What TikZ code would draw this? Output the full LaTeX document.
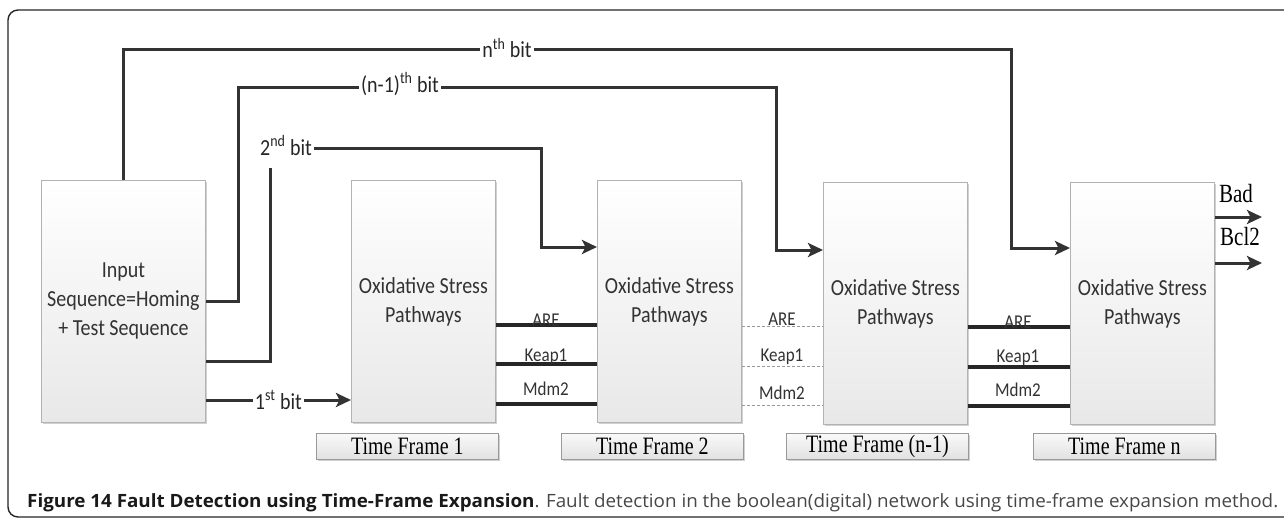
\documentclass[tikz,border=0pt]{standalone}
\usepackage{fontspec}
\usepackage{graphicx}
\setmainfont{Carlito}
\newfontfamily\tnr{Liberation Serif}
\newfontfamily\capfont{Open Sans}
\usetikzlibrary{arrows.meta}
\newcommand\vsa[1]{\scalebox{1}[1.15]{#1}}
\newcommand\vsb[1]{\scalebox{1}[1.25]{#1}}
\begin{document}
\begin{tikzpicture}[x=1pt,y=-1pt,
  shad/.style={preaction={fill=black!18, transform canvas={xshift=1.5pt,yshift=-1.5pt}}},
  box/.style={shad, draw=black!30, line width=0.8pt, top color=white, bottom color=black!9,
    minimum width=144pt, minimum height=242pt, anchor=north west, align=center,
    font=\fontsize{20}{29}\selectfont, text=black!80, inner sep=0pt},
  tfl/.style={shad, draw=black!40, line width=0.8pt, top color=black!2, bottom color=black!12,
    minimum width=182pt, minimum height=26pt, anchor=north west, inner sep=0pt,
    font=\tnr\fontsize{20}{22}\selectfont, text=black},
  conn/.style={draw=black!80, line width=3pt},
  arr/.style={-{Stealth[length=15pt,width=14pt,inset=3.5pt]}},
  bus/.style={draw=black!85, line width=4pt},
  dbus/.style={draw=black!40, line width=1pt, dash pattern=on 3pt off 2pt},
  blab/.style={font=\fontsize{17}{20}\selectfont, text=black!80, anchor=base, inner sep=0pt},
  clab/.style={font=\fontsize{20}{22}\selectfont, text=black!85, fill=white, inner sep=2pt},
  olab/.style={font=\tnr\fontsize{21}{22}\selectfont, text=black, inner sep=0pt}
]
\useasboundingbox (0,0) rectangle (1284,519);
\fill[white] (0,0) rectangle (1284,519);
% outer frame
\draw[black!85, line width=1.4pt, rounded corners=10pt] (8,10) rectangle (1320,517);

% boxes
\node[box, minimum width=164pt] (inp) at (41,180) {\vsa{Input}\\\vsa{Sequence=Homing}\\\vsa{+ Test Sequence}};
\node[box] (tf1) at (351,180) {\vsa{Oxidative Stress}\\\vsa{Pathways}};
\node[box] (tf2) at (597,180) {\vsa{Oxidative Stress}\\\vsa{Pathways}};
\node[box] (tfn1) at (823,182) {\vsa{Oxidative Stress}\\\vsa{Pathways}};
\node[box] (tfn) at (1070,182) {\vsa{Oxidative Stress}\\\vsa{Pathways}};

% time frame labels
\node[tfl] (l1) at (316,433) {\vsb{Time Frame 1}};
\node[tfl] (l2) at (561,433) {\vsb{Time Frame 2}};
\node[tfl] (l3) at (786,433) {\vsb{Time Frame (n-1)}};
\node[tfl] (l4) at (1033,433) {\vsb{Time Frame n}};

% connectors (bits)
\draw[conn,arr] (inp.north) |- (1011,50) |- (tfn.west |- 0,248);
\node[clab] (nb) at (507,48) {\vsa{n\textsuperscript{th} bit}};
\draw[conn,arr] (inp.east |- 0,301) -| (238,87) -| (776,250) -- (tfn1.west |- 0,250);
\node[clab] (n1b) at (400,84) {\vsa{(n-1)\textsuperscript{th} bit}};
\draw[conn,arr] (inp.east |- 0,361) -| (270,148) -| (541,247) -- (tf2.west |- 0,247);
\node[clab, minimum height=38pt, anchor=north] (b2) at (286,130) {\raisebox{8pt}{\vsa{2\textsuperscript{nd} bit}}};
\draw[conn,arr] (inp.east |- 0,400) -- (tf1.west |- 0,400)
  node[clab, pos=0.5] (b1) {\vsa{1\textsuperscript{st} bit}};

% buses tf1 -> tf2
\draw[bus] (tf1.east |- 0,325) -- (tf2.west |- 0,325);
\draw[bus] (tf1.east |- 0,364) -- (tf2.west |- 0,364);
\draw[bus] (tf1.east |- 0,404) -- (tf2.west |- 0,404);
\node[blab] (a1) at (546,326) {\vsa{ARE}};
\node[blab] (k1) at (546,361) {\vsa{Keap1}};
\node[blab] (m1) at (546,395) {\vsa{Mdm2}};
% dashed tf2 -> tfn1
\draw[dbus] (tf2.east |- 0,326) -- (tfn1.west |- 0,326);
\draw[dbus] (tf2.east |- 0,366) -- (tfn1.west |- 0,366);
\draw[dbus] (tf2.east |- 0,405) -- (tfn1.west |- 0,405);
\node[blab] (a2) at (782,325) {\vsa{ARE}};
\node[blab] (k2) at (782,361) {\vsa{Keap1}};
\node[blab] (m2) at (782,399) {\vsa{Mdm2}};
% tfn1 -> tfn
\draw[bus] (tfn1.east |- 0,327) -- (tfn.west |- 0,327);
\draw[bus] (tfn1.east |- 0,367) -- (tfn.west |- 0,367);
\draw[bus] (tfn1.east |- 0,406) -- (tfn.west |- 0,406);
\node[blab] (a3) at (1018,328) {\vsa{ARE}};
\node[blab] (k3) at (1018,362) {\vsa{Keap1}};
\node[blab] (m3) at (1018,396) {\vsa{Mdm2}};

% outputs
\coordinate (badend) at (1262,217);
\coordinate (bclend) at (1262,263);
\draw[conn,arr] (tfn.east |- badend) -- (badend);
\draw[conn,arr] (tfn.east |- bclend) -- (bclend);
\node[olab] (bad) at (1236,194) {\vsb{Bad}};
\node[olab] (bcl) at (1240,237) {\vsb{Bcl2}};

% caption
\node[anchor=base west, inner sep=0pt] (cap) at (27,507)
 {\resizebox{1251pt}{14pt}{\capfont\fontsize{18}{20}\selectfont{\color{black!90}\textbf{Figure 14 Fault Detection using Time-Frame Expansion}}{\color{black!72}. Fault detection in the boolean(digital) network using time-frame expansion method.}}};
\end{tikzpicture}
\end{document}
